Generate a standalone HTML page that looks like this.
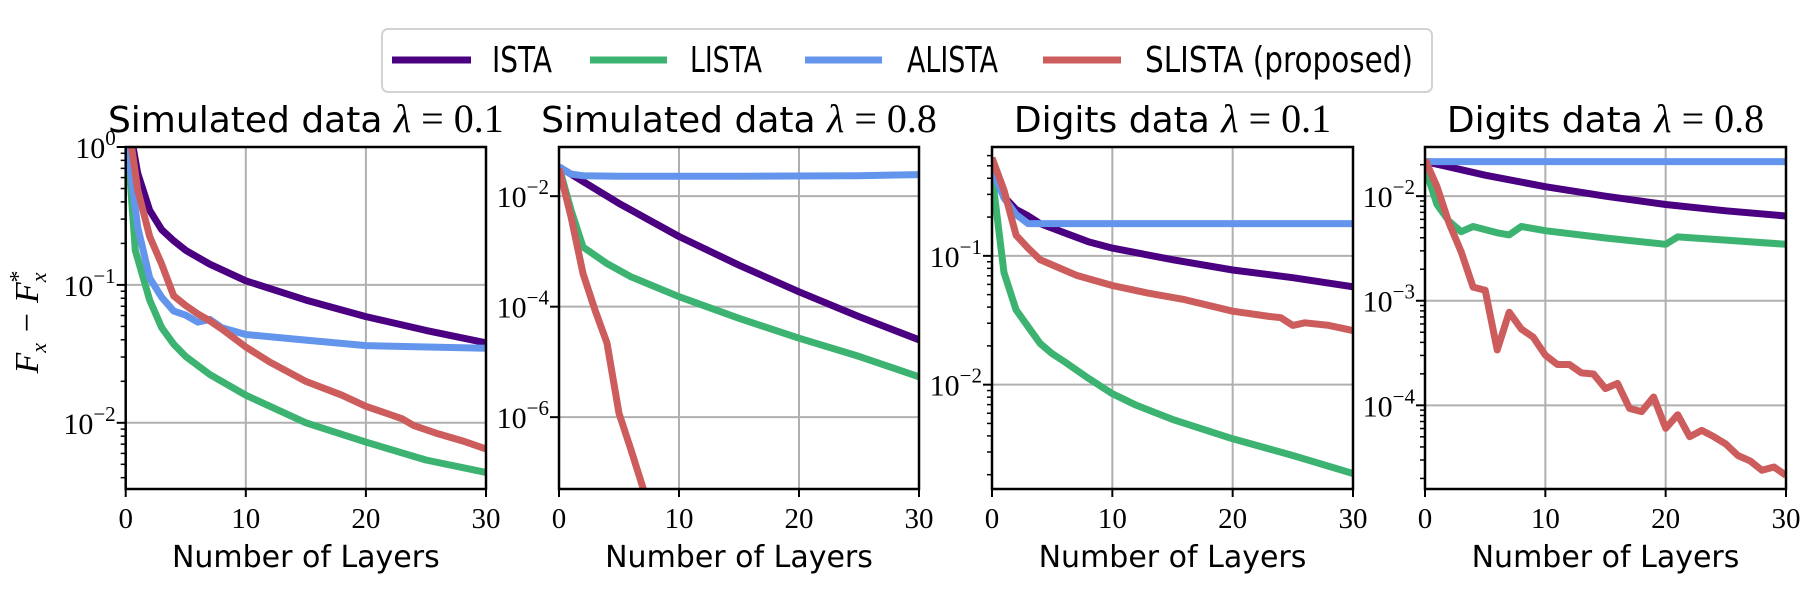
<!DOCTYPE html>
<html><head><meta charset="utf-8"><style>
html,body{margin:0;padding:0;background:#fff;}
svg{display:block;}
</style></head><body>
<svg id="fig" width="1809" height="599" viewBox="0 0 1809 599" xmlns="http://www.w3.org/2000/svg">
<g>
<rect x="382" y="29" width="1050" height="63" rx="6" fill="#fff" stroke="#d3d3d3" stroke-width="2"/>
<line x1="392" y1="60" x2="471" y2="60" stroke="#4b0082" stroke-width="7"/>
<text x="492" y="72" font-family="DejaVu Sans, Liberation Sans, sans-serif" font-size="36" textLength="60" lengthAdjust="spacingAndGlyphs">ISTA</text>
<line x1="590" y1="60" x2="667" y2="60" stroke="#3cb371" stroke-width="7"/>
<text x="690" y="72" font-family="DejaVu Sans, Liberation Sans, sans-serif" font-size="36" textLength="72" lengthAdjust="spacingAndGlyphs">LISTA</text>
<line x1="805" y1="60" x2="882" y2="60" stroke="#6495ed" stroke-width="7"/>
<text x="907" y="72" font-family="DejaVu Sans, Liberation Sans, sans-serif" font-size="36" textLength="91" lengthAdjust="spacingAndGlyphs">ALISTA</text>
<line x1="1043" y1="60" x2="1121" y2="60" stroke="#cd5c5c" stroke-width="7"/>
<text x="1145" y="72" font-family="DejaVu Sans, Liberation Sans, sans-serif" font-size="36" textLength="268" lengthAdjust="spacingAndGlyphs">SLISTA (proposed)</text>
</g>
<text transform="translate(38,322) rotate(-90)" text-anchor="middle" font-family="Liberation Serif, serif" font-size="34" font-style="italic">F<tspan font-size="22" dy="8">x</tspan><tspan dy="-8"> − F</tspan><tspan font-size="22" dy="8">x</tspan><tspan font-size="24" dy="-20" dx="-10" font-style="normal">*</tspan></text>
</svg>
<script>
// log10(F_x - F_x*)
const p1_ista_x=[0,1,2,3,4,5,7,10,15,20,25,30];
const p1_ista=[0.3,-0.19,-0.46,-0.60,-0.68,-0.75,-0.85,-0.97,-1.11,-1.23,-1.33,-1.42];
const p1_lista_x=[0,0.8,2,3,4,5,7,10,15,20,25,30];
const p1_lista=[0.2,-0.75,-1.11,-1.31,-1.43,-1.52,-1.65,-1.80,-2.0,-2.14,-2.27,-2.36];
const p1_alista_x=[0,1,2,3,4,5,6,7,8,10,15,20,30];
const p1_alista=[0.1,-0.58,-0.95,-1.09,-1.19,-1.22,-1.27,-1.25,-1.31,-1.36,-1.40,-1.44,-1.46];
const p1_slista_x=[0,1,2,3,4,5,6,7,8,10,12,15,18,20,22,23,24,26,28,30];
const p1_slista=[0.3,-0.31,-0.65,-0.85,-1.08,-1.15,-1.21,-1.26,-1.32,-1.45,-1.56,-1.70,-1.80,-1.88,-1.94,-1.97,-2.02,-2.08,-2.13,-2.19];

const p2_ista_x=[0,5,10,15,20,25,30];
const p2_ista=[-1.47,-2.13,-2.73,-3.25,-3.73,-4.18,-4.60];
const p2_lista_x=[0,1,2,4,6,10,15,20,25,30];
const p2_lista=[-1.47,-2.25,-2.92,-3.22,-3.46,-3.82,-4.21,-4.57,-4.90,-5.27];
const p2_alista_x=[0,1,2,5,15,25,30];
const p2_alista=[-1.47,-1.60,-1.63,-1.64,-1.64,-1.63,-1.61];
const p2_slista_x=[0,1,2,3,4,5,6,7,8,9,10];
const p2_slista=[-1.50,-2.37,-3.40,-4.06,-4.66,-5.93,-6.59,-7.28,-8.0,-8.6,-9.2];

const p3_ista_x=[0,1,2,3,4,6,8,10,15,20,25,30];
const p3_ista=[-0.24,-0.54,-0.64,-0.69,-0.75,-0.82,-0.89,-0.94,-1.03,-1.11,-1.17,-1.24];
const p3_lista_x=[0,1,2,3,4,5,6,8,10,12,15,20,25,30];
const p3_lista=[-0.37,-1.13,-1.42,-1.55,-1.68,-1.76,-1.82,-1.95,-2.07,-2.16,-2.27,-2.42,-2.55,-2.69];
const p3_alista_x=[0,1,2,3,4,30];
const p3_alista=[-0.33,-0.55,-0.68,-0.75,-0.75,-0.75];
const p3_slista_x=[0,1,2,3,4,5,7,10,13,16,20,23,24,25,26,28,30];
const p3_slista=[-0.24,-0.49,-0.84,-0.94,-1.03,-1.07,-1.15,-1.23,-1.29,-1.34,-1.43,-1.47,-1.48,-1.54,-1.52,-1.54,-1.58];

const p4_ista_x=[0,2,5,10,15,20,25,30];
const p4_ista=[-1.67,-1.72,-1.80,-1.91,-2.0,-2.08,-2.14,-2.19];
const p4_lista_x=[0,1,2,3,4,5,6,7,8,10,15,20,21,25,30];
const p4_lista=[-1.73,-2.08,-2.24,-2.34,-2.29,-2.32,-2.35,-2.37,-2.29,-2.33,-2.40,-2.46,-2.39,-2.42,-2.46];
const p4_alista_x=[0,30];
const p4_alista=[-1.67,-1.67];
const p4_slista_x=[0,1,2,3,4,5,6,7,8,9,10,11,12,13,14,15,16,17,18,19,20,21,22,23,24,25,26,27,28,29,30];
const p4_slista=[-1.65,-1.91,-2.26,-2.53,-2.87,-2.90,-3.47,-3.11,-3.27,-3.35,-3.52,-3.61,-3.61,-3.69,-3.70,-3.84,-3.79,-4.03,-4.06,-3.92,-4.22,-4.09,-4.30,-4.24,-4.30,-4.37,-4.48,-4.53,-4.62,-4.59,-4.67];

const xTicks=[0,10,20,30];
const titles=["Simulated data","Simulated data","Digits data","Digits data"];
const lambdas=["0.1","0.8","0.1","0.8"];
const yMajor=[[0,-1,-2],[-2,-4,-6],[-1,-2],[-2,-3,-4]];

(function(){
const NS="http://www.w3.org/2000/svg";
const svg=document.getElementById('fig');
function mk(tag,attrs,parent){const e=document.createElementNS(NS,tag);for(const k in attrs)e.setAttribute(k,attrs[k]);(parent||svg).appendChild(e);return e;}
const panels=[
 {x0:125.7,x1:486,ymax:0,ymin:-2.48,minor:true,series:[[p1_ista_x,p1_ista],[p1_lista_x,p1_lista],[p1_alista_x,p1_alista],[p1_slista_x,p1_slista]]},
 {x0:559,x1:919,ymax:-1.11,ymin:-7.30,minor:false,series:[[p2_ista_x,p2_ista],[p2_lista_x,p2_lista],[p2_alista_x,p2_alista],[p2_slista_x,p2_slista]]},
 {x0:992,x1:1353,ymax:-0.155,ymin:-2.81,minor:true,series:[[p3_ista_x,p3_ista],[p3_lista_x,p3_lista],[p3_alista_x,p3_alista],[p3_slista_x,p3_slista]]},
 {x0:1425,x1:1786,ymax:-1.53,ymin:-4.80,minor:true,series:[[p4_ista_x,p4_ista],[p4_lista_x,p4_lista],[p4_alista_x,p4_alista],[p4_slista_x,p4_slista]]}
];
const colors=["#4b0082","#3cb371","#6495ed","#cd5c5c"];
const snames=["ista","lista","alista","slista"];
const yTop=147,yBot=489;
panels.forEach((p,i)=>{
 const g=mk('g',{});
 
 
 const sx=v=>p.x0+(v/30)*(p.x1-p.x0);
 const sy=v=>yTop+(p.ymax-v)/(p.ymax-p.ymin)*(yBot-yTop);
 const cid='clip'+i;
 const cp=mk('clipPath',{id:cid},g);mk('rect',{x:p.x0,y:yTop,width:p.x1-p.x0,height:yBot-yTop},cp);
 [10,20].forEach(t=>{const l=mk('line',{x1:sx(t),x2:sx(t),y1:yTop,y2:yBot,stroke:'#b0b0b0','stroke-width':2},g);
  
  });
 yMajor[i].forEach(t=>{const l=mk('line',{x1:p.x0,x2:p.x1,y1:sy(t),y2:sy(t),stroke:'#b0b0b0','stroke-width':2},g);
  
  });
 [0,1,2,3].forEach(k=>{const xs=p.series[k][0],ys=p.series[k][1];
  const d=xs.map((x,j)=>(j?'L':'M')+sx(x).toFixed(1)+','+sy(ys[j]).toFixed(1)).join(' ');
  const pa=mk('path',{d:d,fill:'none',stroke:colors[k],'stroke-width':7,'stroke-linejoin':'round','clip-path':'url(#'+cid+')'},g);
  
  
 });
 const fr=mk('rect',{x:p.x0,y:yTop,width:p.x1-p.x0,height:yBot-yTop,fill:'none',stroke:'#000','stroke-width':2.5},g);
 
 
 xTicks.forEach(t=>{mk('line',{x1:sx(t),x2:sx(t),y1:yBot,y2:yBot+8,stroke:'#000','stroke-width':2},g);
  const tx=mk('text',{x:sx(t),y:528,'text-anchor':'middle','font-family':'Liberation Serif, serif','font-size':29},g);tx.textContent=t;
  
  });
 yMajor[i].forEach(t=>{const y=sy(t);mk('line',{x1:p.x0-9,x2:p.x0,y1:y,y2:y,stroke:'#000','stroke-width':2},g);
  const tx=mk('text',{x:p.x0-10,y:y+11,'text-anchor':'end','font-family':'Liberation Serif, serif','font-size':30},g);
  
  
  const a=mk('tspan',{},tx);a.textContent='10';const b=mk('tspan',{'font-size':21,dy:-13},tx);b.textContent=(t===0?'0':'−'+(-t));});
 if(p.minor){for(let dec=Math.floor(p.ymin);dec<=Math.ceil(p.ymax);dec++){for(let m=2;m<=9;m++){const v=dec+Math.log10(m);if(v<p.ymin||v>p.ymax)continue;const y=sy(v);mk('line',{x1:p.x0-5,x2:p.x0,y1:y,y2:y,stroke:'#000','stroke-width':1.5},g);}}}
 const cx=(p.x0+p.x1)/2;
 const tt=mk('text',{x:cx,y:132,'text-anchor':'middle','font-size':36},g);
 
 
 const t1=mk('tspan',{'font-family':'DejaVu Sans, Liberation Sans, sans-serif'},tt);t1.textContent=titles[i]+' ';
 const t2=mk('tspan',{'font-family':'Liberation Serif, serif','font-style':'italic','font-size':40},tt);t2.textContent='λ';
 const t3=mk('tspan',{'font-family':'Liberation Serif, serif','font-size':40},tt);t3.textContent=' = '+lambdas[i];
 const xl=mk('text',{x:cx,y:567,'text-anchor':'middle','font-family':'DejaVu Sans, Liberation Sans, sans-serif','font-size':30},g);
 xl.textContent='Number of Layers';
 
 
});
})();
</script>
</body></html>
